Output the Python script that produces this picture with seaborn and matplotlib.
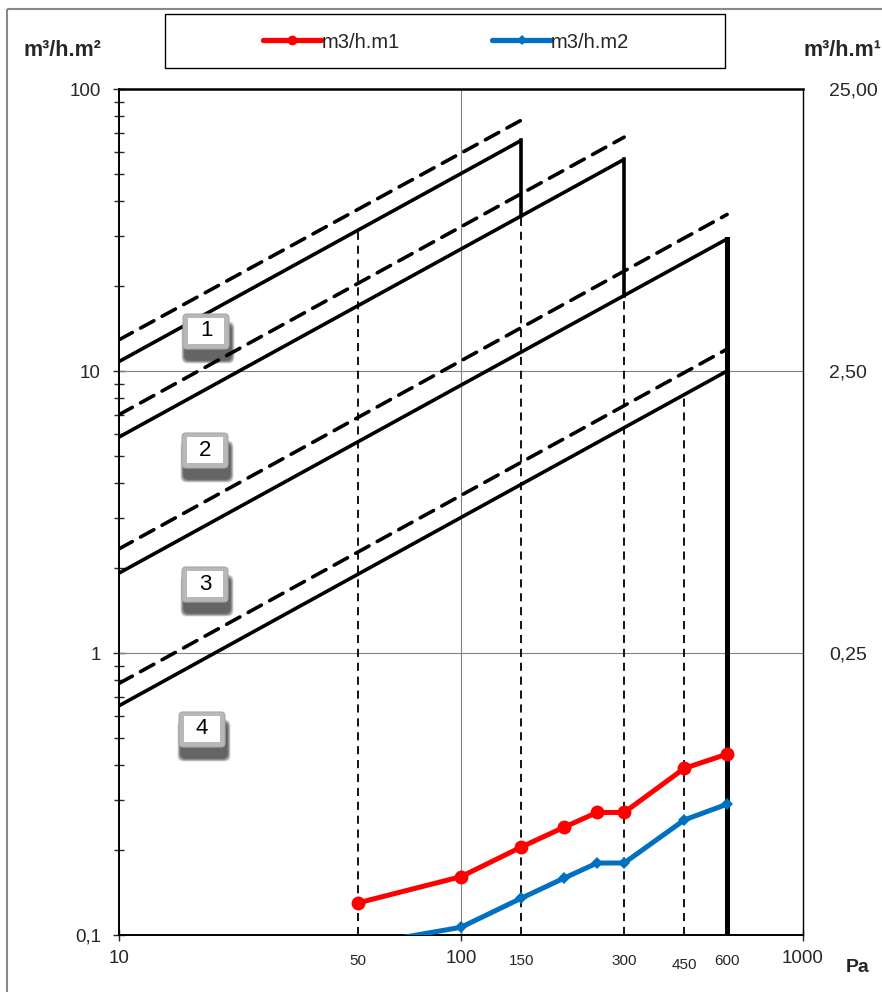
"""
Air permeability classes chart - log/log, pressure vs leakage
"""

import numpy as np
import pandas as pd
import matplotlib
matplotlib.use("Agg")
import matplotlib.pyplot as plt
from matplotlib.patches import Rectangle, FancyBboxPatch
from matplotlib.lines import Line2D
import matplotlib.transforms as mtransforms
import seaborn as sns

# measured series (pressure in Pa)
pressure = [50, 100, 150, 200, 250, 300, 450, 600]
flow_m1 = [0.130, 0.161, 0.205, 0.241, 0.272, 0.272, 0.390, 0.438]
flow_m2 = [0.092, 0.1065, 0.135, 0.159, 0.180, 0.180, 0.256, 0.291]

# class limits: value at 10 Pa and at the class end pressure
classes = ["1", "2", "3", "4"]
class_p_end = [150, 300, 600, 600]
solid_at_10 = [10.8, 5.83, 1.92, 0.65]
solid_at_end = [65.7, 56.3, 29.4, 10.0]
dashed_at_10 = [12.9, 7.0, 2.34, 0.78]
dashed_at_end = [77.5, 67.5, 35.9, 11.96]

# steps between classes
step_p = [150, 300, 600]
step_top = [65.7, 56.3, 29.4]
step_bottom = [35.5, 18.5, 0.1]

# thin dashed reference verticals
ref_p = [50, 150, 300, 450]
ref_top = [31.6, 35.5, 18.5, 8.2]

pressure_marks = ["50", "150", "300", "450", "600"]
right_ticks = [0.25, 2.5, 25]
right_labels = ["0,25", "2,50", "25,00"]

sns.set_style("white")
plt.rcParams["font.family"] = ["Liberation Sans", "DejaVu Sans"]

W, H = 882, 992
fig = plt.figure(figsize=(W / 100, H / 100), dpi=100)
ax = fig.add_axes([119 / W, (H - 935) / H, (803 - 119) / W, (935 - 89) / H])
# pixel coords, origin top-left
px = mtransforms.Affine2D().scale(1 / W, -1 / H).translate(0, 1) + fig.transFigure

ax.set_xscale("log")
ax.set_yscale("log")
ax.set_xlim(10, 1000)
ax.set_ylim(0.1, 100)

# grid
ax.axvline(100, color="#808080", lw=0.8, zorder=1)
for yv in (1, 10):
    ax.axhline(yv, color="#808080", lw=0.8, zorder=1)

# class lines
for i in range(len(classes)):
    ax.plot([10, class_p_end[i]], [solid_at_10[i], solid_at_end[i]],
            color="black", lw=2.6, solid_capstyle="butt", zorder=3)
    ax.plot([10, class_p_end[i]], [dashed_at_10[i], dashed_at_end[i]],
            color="black", lw=2.6, dashes=(4.2, 2.6), dash_capstyle="round", zorder=3)

for p, t, b in zip(step_p, step_top, step_bottom):
    ax.plot([p, p], [t, b], color="black", lw=3.6 if p == 600 else 2.6,
            solid_capstyle="projecting", zorder=3)

for p, t in zip(ref_p, ref_top):
    ax.plot([p, p], [0.1, t], color="black", lw=1.3, dashes=(4.5, 3.2), zorder=2)

# measured series
df = pd.DataFrame({"p": pressure * 2,
                   "q": flow_m1 + flow_m2,
                   "serie": ["m3/h.m1"] * len(pressure) + ["m3/h.m2"] * len(pressure)})
sns.lineplot(data=df[df.serie == "m3/h.m1"], x="p", y="q", color="#ff0000", lw=3.6,
             marker="o", markersize=10, markeredgewidth=0, ax=ax, legend=False, zorder=4)
sns.lineplot(data=df[df.serie == "m3/h.m2"], x="p", y="q", color="#0070c0", lw=3.6,
             marker="D", markersize=6.5, markeredgewidth=0, ax=ax, legend=False, zorder=4)

# axes styling
for s in ax.spines.values():
    s.set_color("black")
    s.set_linewidth(1.0)
ax.spines["top"].set_linewidth(1.8)
ax.spines["bottom"].set_linewidth(1.4)
ax.spines["left"].set_linewidth(1.4)

ax.set_xticks([10, 100, 1000])
ax.set_xticklabels(["10", "100", "1000"])
ax.xaxis.set_minor_locator(matplotlib.ticker.NullLocator())
ax.set_yticks([0.1, 1, 10, 100])
ax.set_yticklabels(["0,1", "1", "10", "100"])
ax.yaxis.set_minor_locator(matplotlib.ticker.LogLocator(base=10, subs=np.arange(2, 10)))
ax.yaxis.set_minor_formatter(matplotlib.ticker.NullFormatter())
ax.tick_params(axis="x", which="major", direction="inout", length=8, width=1,
               labelsize=13.5, pad=7, bottom=True)
ax.tick_params(axis="y", which="major", direction="inout", length=8, width=1,
               labelsize=13.5, pad=9, left=True)
ax.tick_params(axis="y", which="minor", direction="inout", length=7, width=1, left=True)
ax.set_xlabel("")
ax.set_ylabel("")

# pressure marks under the axis
trans = mtransforms.blended_transform_factory(ax.transData, ax.transAxes)
for lab in pressure_marks:
    dy = -0.036 if lab == "450" else -0.031
    ax.text(float(lab), dy, lab, transform=trans, ha="center", va="center", fontsize=11)

# right axis
ax2 = ax.twinx()
ax2.set_yscale("log")
ax2.set_ylim(0.025, 25)
ax2.set_yticks(right_ticks)
ax2.set_yticklabels(right_labels)
ax2.yaxis.set_minor_locator(matplotlib.ticker.NullLocator())
ax2.tick_params(axis="y", length=0, labelsize=14, pad=19, right=True)
for s in ax2.spines.values():
    s.set_visible(False)

# class boxes with soft shadow
box_tops = [(183, 314), (182, 433), (182, 567), (179, 712)]
bw, bh = 46, 35
for lab, (x0, y0) in zip(classes, box_tops):
    for k in range(7):
        g = 7 - k
        fig.patches.append(FancyBboxPatch((x0 + 2 - g / 2, y0 + 11 - g / 2), bw + g, bh + g,
                                          boxstyle="round,pad=0,rounding_size=6",
                                          transform=px, fc="black", ec="none",
                                          alpha=0.12, zorder=5))
    fig.patches.append(FancyBboxPatch((x0, y0), bw, bh, boxstyle="round,pad=0,rounding_size=4",
                                      transform=px, fc="#b8b8b8", ec="#a8a8a8", lw=0.8, zorder=6))
    fig.patches.append(Rectangle((x0 + 5, y0 + 4), bw - 10, bh - 9, transform=px,
                                 fc="white", ec="none", zorder=7))
    fig.text(x0 + bw / 2, y0 + bh / 2 - 0.5, lab, transform=px, ha="center", va="center",
             fontsize=16, color="black", zorder=8)

# axis titles
fig.text(62, 50, "m³/h.m²", transform=px, ha="center", va="center", fontsize=15.5, weight="bold")
fig.text(842, 50, "m³/h.m¹", transform=px, ha="center", va="center", fontsize=15.5, weight="bold")
fig.text(858, 968, "Pa", transform=px, ha="center", va="center", fontsize=14, weight="bold")

# legend box
fig.patches.append(Rectangle((165, 14), 560, 54, transform=px, fill=False, ec="black", lw=1))
handles = [Line2D([], [], color="#ff0000", lw=3.8, marker="o", markersize=7, markeredgewidth=0),
           Line2D([], [], color="#0070c0", lw=3.8, marker="D", markersize=5, markeredgewidth=0)]
fig.legend(handles, ["m3/h.m1", "m3/h.m2"], loc="center", bbox_to_anchor=(446 / W, 1 - 42 / H),
           ncol=2, frameon=False, fontsize=14.5, handlelength=2.9, handletextpad=0.0,
           columnspacing=4.6)

# chart border
fig.patches.append(Rectangle((7, 9), W, H, transform=px, fill=False, ec="#888888", lw=1.5))

fig.savefig("out.png", dpi=100)
